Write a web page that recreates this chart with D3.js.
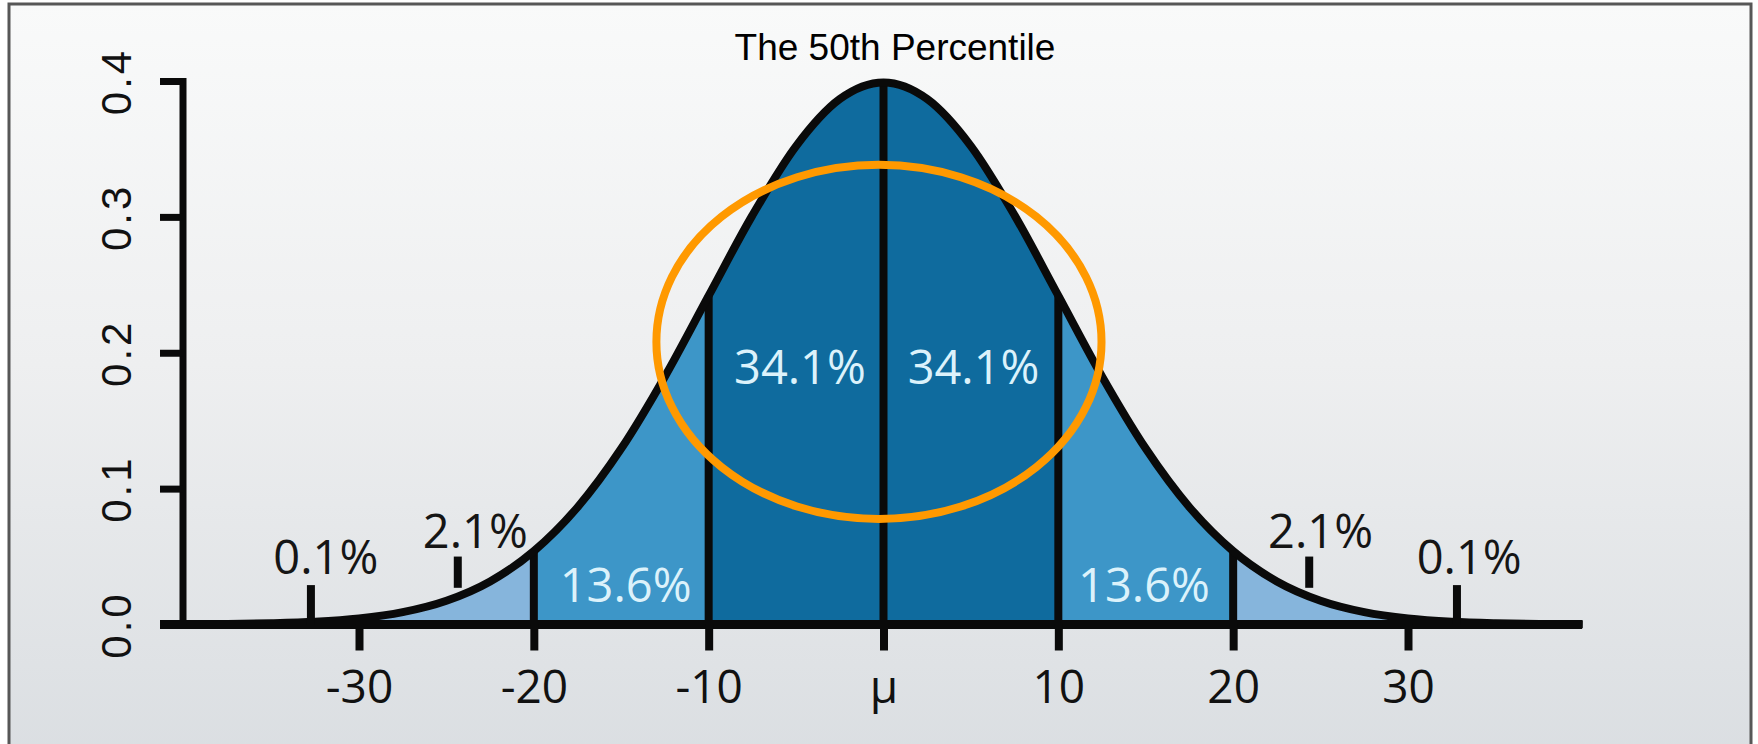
<!DOCTYPE html>
<html>
<head>
<meta charset="utf-8">
<script src="https://cdn.jsdelivr.net/npm/d3@7"></script>
<style>
  html, body { margin: 0; padding: 0; background: #fff; }
  svg { display: block; }
</style>
</head>
<body>
<script>
var width = 1758, height = 744;

// bell curve (x in units of the axis, density)
var curveX = [-40, -37.5, -35, -32.5, -30, -27.5, -25, -22.5, -20, -17.5, -15, -12.5, -10, -7.5, -5, -2.5,
              0, 2.5, 5, 7.5, 10, 12.5, 15, 17.5, 20, 22.5, 25, 27.5, 30, 32.5, 35, 37.5, 40];
var curveY = [0.0001, 0.0004, 0.0009, 0.0020, 0.0044, 0.0091, 0.0175, 0.0317, 0.0540, 0.0863, 0.1295, 0.1826,
              0.2420, 0.3011, 0.3521, 0.3867, 0.3989, 0.3867, 0.3521, 0.3011, 0.2420, 0.1826, 0.1295, 0.0863,
              0.0540, 0.0317, 0.0175, 0.0091, 0.0044, 0.0020, 0.0009, 0.0004, 0.0001];

var dividerX = [-20, -10, 0, 10, 20];

var xTickValues = [-30, -20, -10, 0, 10, 20, 30];
var xTickLabels = ["-30", "-20", "-10", "μ", "10", "20", "30"];
var yTickValues = [0, 0.1, 0.2, 0.3, 0.4];

var pctLabels = ["0.1%", "2.1%", "13.6%", "34.1%", "34.1%", "13.6%", "2.1%", "0.1%"];
var pctX = [-31.9, -23.35, -14.75, -4.78, 5.15, 14.9, 25.0, 33.5];
var pctY = [0.0372, 0.0563, 0.0166, 0.177, 0.177, 0.0166, 0.0563, 0.0372];
var pctInside = [false, false, true, true, true, true, false, false];

var markerX = [-32.75, -24.35, 24.35, 32.8];
var markerLow = [0, 0.027, 0.027, 0];
var markerHigh = [0.029, 0.05, 0.05, 0.029];

var title = "The 50th Percentile";

// orange highlight ellipse, in data units
var ringCx = -0.26, ringCy = 0.208, ringRx = 12.73, ringRy = 0.1303;

var x = d3.scaleLinear().domain([-30, 30]).range([359, 1408]);
var y = d3.scaleLinear().domain([0, 0.4]).range([624.5, 81]);

var ink = "#0a0a0a";
var axisX = 183;

var svg = d3.select("body").append("svg")
    .attr("width", width)
    .attr("height", height);

var defs = svg.append("defs");
var grad = defs.append("linearGradient")
    .attr("id", "bg")
    .attr("x1", 0).attr("y1", 0).attr("x2", 0).attr("y2", 1);
grad.append("stop").attr("offset", "0%").attr("stop-color", "#f9fafa");
grad.append("stop").attr("offset", "45%").attr("stop-color", "#eeeff0");
grad.append("stop").attr("offset", "100%").attr("stop-color", "#d8dce0");

defs.append("clipPath").attr("id", "mid")
  .append("rect")
    .attr("x", x(-20)).attr("y", 0)
    .attr("width", x(20) - x(-20)).attr("height", height);
defs.append("clipPath").attr("id", "core")
  .append("rect")
    .attr("x", x(-10)).attr("y", 0)
    .attr("width", x(10) - x(-10)).attr("height", height);

// frame
svg.append("rect")
    .attr("x", 9).attr("y", 4)
    .attr("width", 1742).attr("height", 800)
    .attr("fill", "url(#bg)")
    .attr("stroke", "#575757")
    .attr("stroke-width", 3);

var points = d3.zip(curveX, curveY);

var area = d3.area()
    .x(function (d) { return x(d[0]); })
    .y0(y(0))
    .y1(function (d) { return y(d[1]); })
    .curve(d3.curveMonotoneX);

var line = d3.line()
    .x(function (d) { return x(d[0]); })
    .y(function (d) { return y(d[1]); })
    .curve(d3.curveMonotoneX);

svg.append("path").attr("d", area(points)).attr("fill", "#86b5dc");
svg.append("path").attr("d", area(points)).attr("fill", "#3d96c8").attr("clip-path", "url(#mid)");
svg.append("path").attr("d", area(points)).attr("fill", "#0f6b9e").attr("clip-path", "url(#core)");

// section dividers up to the curve
svg.append("g").selectAll("line")
    .data(dividerX)
    .join("line")
    .attr("x1", function (d) { return x(d); })
    .attr("x2", function (d) { return x(d); })
    .attr("y1", y(0))
    .attr("y2", function (d) { return y(curveY[curveX.indexOf(d)]); })
    .attr("stroke", ink)
    .attr("stroke-width", 8);

svg.append("path")
    .attr("d", line(points))
    .attr("fill", "none")
    .attr("stroke", ink)
    .attr("stroke-width", 8)
    .attr("stroke-linejoin", "round");

// x axis
svg.append("line")
    .attr("x1", 160).attr("x2", 1582)
    .attr("y1", y(0)).attr("y2", y(0))
    .attr("stroke", ink)
    .attr("stroke-width", 9);

var xAxis = svg.append("g")
    .attr("transform", "translate(0," + y(0) + ")")
    .call(d3.axisBottom(x)
        .tickValues(xTickValues)
        .tickFormat(function (d, i) { return xTickLabels[i]; })
        .tickSizeInner(26)
        .tickSizeOuter(0));
xAxis.select(".domain").remove();
xAxis.selectAll(".tick line").attr("stroke", ink).attr("stroke-width", 8);
xAxis.selectAll(".tick text")
    .attr("y", 78.5)
    .attr("dy", null)
    .attr("fill", "#111")
    .style("font-family", "'Open Sans', sans-serif")
    .style("font-size", "46px");

// y axis
svg.append("line")
    .attr("x1", axisX).attr("x2", axisX)
    .attr("y1", y(0)).attr("y2", y(0.4) - 3)
    .attr("stroke", ink)
    .attr("stroke-width", 7);

var yAxis = svg.append("g")
    .attr("transform", "translate(" + axisX + ",0)")
    .call(d3.axisLeft(y)
        .tickValues(yTickValues)
        .tickFormat(d3.format(".1f"))
        .tickSizeInner(23)
        .tickSizeOuter(0));
yAxis.select(".domain").remove();
yAxis.selectAll(".tick line").attr("stroke", ink).attr("stroke-width", 7);
yAxis.selectAll(".tick text")
    .attr("transform", "rotate(-90)")
    .attr("x", 0)
    .attr("y", -52)
    .attr("dy", null)
    .attr("text-anchor", "middle")
    .attr("fill", "#111")
    .style("font-family", "'Liberation Sans', Arial, sans-serif")
    .style("font-size", "42px")
    .style("letter-spacing", "3px");

// small markers under the tail labels
svg.append("g").selectAll("line")
    .data(markerX)
    .join("line")
    .attr("x1", function (d) { return x(d); })
    .attr("x2", function (d) { return x(d); })
    .attr("y1", function (d, i) { return y(markerLow[i]); })
    .attr("y2", function (d, i) { return y(markerHigh[i]); })
    .attr("stroke", ink)
    .attr("stroke-width", 8);

// percentage labels
svg.append("g").selectAll("text")
    .data(pctLabels)
    .join("text")
    .attr("x", function (d, i) { return x(pctX[i]); })
    .attr("y", function (d, i) { return y(pctY[i]); })
    .attr("text-anchor", "middle")
    .attr("fill", function (d, i) { return pctInside[i] ? "#dcf2fb" : "#151515"; })
    .style("font-family", "'Open Sans', sans-serif")
    .style("font-size", "47px")
    .text(function (d) { return d; });

// highlight ring
svg.append("ellipse")
    .attr("cx", x(ringCx))
    .attr("cy", y(ringCy))
    .attr("rx", x(ringRx) - x(0))
    .attr("ry", y(0) - y(ringRy))
    .attr("fill", "none")
    .attr("stroke", "#ff9900")
    .attr("stroke-width", 8);

svg.append("text")
    .attr("x", 895)
    .attr("y", 60)
    .attr("text-anchor", "middle")
    .attr("fill", "#000")
    .style("font-family", "'Liberation Sans', Arial, sans-serif")
    .style("font-size", "37px")
    .text(title);
</script>
</body>
</html>
